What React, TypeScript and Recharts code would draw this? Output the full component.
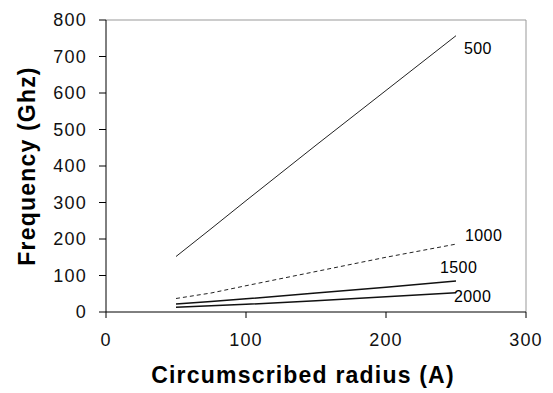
import { LineChart, Line, XAxis, YAxis, ReferenceLine, Label } from "recharts";

// circumscribed radius (A)
const radius = [50, 75, 100, 150, 200, 250];

// frequency (GHz) per curve
const f500 = [152, 228, 305, 457, 607, 757];
const f1000 = [37, 52, 72, 111, 150, 186];
const f1500 = [22, 29, 36, 52, 68, 85];
const f2000 = [13, 17, 21, 31, 42, 53];

const xTicks = [0, 100, 200, 300];
const yTicks = [0, 100, 200, 300, 400, 500, 600, 700, 800];

const data = radius.map((r, i) => ({
  r,
  s500: f500[i],
  s1000: f1000[i],
  s1500: f1500[i],
  s2000: f2000[i],
}));

const FONT = "'Liberation Sans', Arial, sans-serif";

// curve name written next to the last point
function endLabel(text: string, dx: number, dy: number) {
  return (props: any) => {
    if (props.index !== radius.length - 1) return null;
    return (
      <text
        x={props.x + dx}
        y={props.y + dy}
        fontSize={16}
        letterSpacing={0.4}
        fontFamily={FONT}
        fill="#000"
        dominantBaseline="central"
      >
        {text}
      </text>
    );
  };
}

const tickStyle = { fontSize: 18, fill: "#111", fontFamily: FONT, letterSpacing: 1.2 };

const titleProps = {
  fontSize: 23,
  fontWeight: "bold" as const,
  fontFamily: FONT,
  letterSpacing: 1.2,
  fill: "#000",
  textAnchor: "middle" as const,
  dominantBaseline: "central" as const,
};

export default function App() {
  return (
    <div style={{ position: "absolute", left: 0, top: 0, background: "#fff" }}>
      <LineChart
        width={553}
        height={393}
        data={data}
        margin={{ top: 20, right: 27, left: 0, bottom: 0 }}
      >
        <XAxis
          dataKey="r"
          type="number"
          domain={[0, 300]}
          ticks={xTicks}
          stroke="#000"
          tickSize={6}
          tickMargin={15}
          tick={tickStyle}
          height={81}
        >
          <Label
            content={(p: any) => (
              <text x={p.viewBox.x + p.viewBox.width / 2 - 13} y={375} {...titleProps}>
                Circumscribed radius (A)
              </text>
            )}
          />
        </XAxis>
        <YAxis
          type="number"
          domain={[0, 800]}
          ticks={yTicks}
          stroke="#000"
          tickSize={7}
          tickMargin={12}
          tick={tickStyle}
          width={106}
          interval={0}
        >
          <Label
            content={(p: any) => {
              const cy = p.viewBox.y + p.viewBox.height / 2;
              return (
                <text x={27} y={cy} transform={`rotate(-90 27 ${cy})`} {...titleProps}>
                  Frequency (Ghz)
                </text>
              );
            }}
          />
        </YAxis>
        <ReferenceLine y={800} stroke="#999" />
        <ReferenceLine x={300} stroke="#999" />
        <Line
          dataKey="s500"
          stroke="#222"
          strokeWidth={1}
          dot={false}
          isAnimationActive={false}
          label={endLabel("500", 8, 13)}
        />
        <Line
          dataKey="s1000"
          stroke="#222"
          strokeWidth={1}
          strokeDasharray="4 3"
          dot={false}
          isAnimationActive={false}
          label={endLabel("1000", 9, -9)}
        />
        <Line
          dataKey="s1500"
          stroke="#111"
          strokeWidth={1.5}
          dot={false}
          isAnimationActive={false}
          label={endLabel("1500", -16, -13)}
        />
        <Line
          dataKey="s2000"
          stroke="#111"
          strokeWidth={1.5}
          dot={false}
          isAnimationActive={false}
          label={endLabel("2000", -2, 4)}
        />
      </LineChart>
    </div>
  );
}
